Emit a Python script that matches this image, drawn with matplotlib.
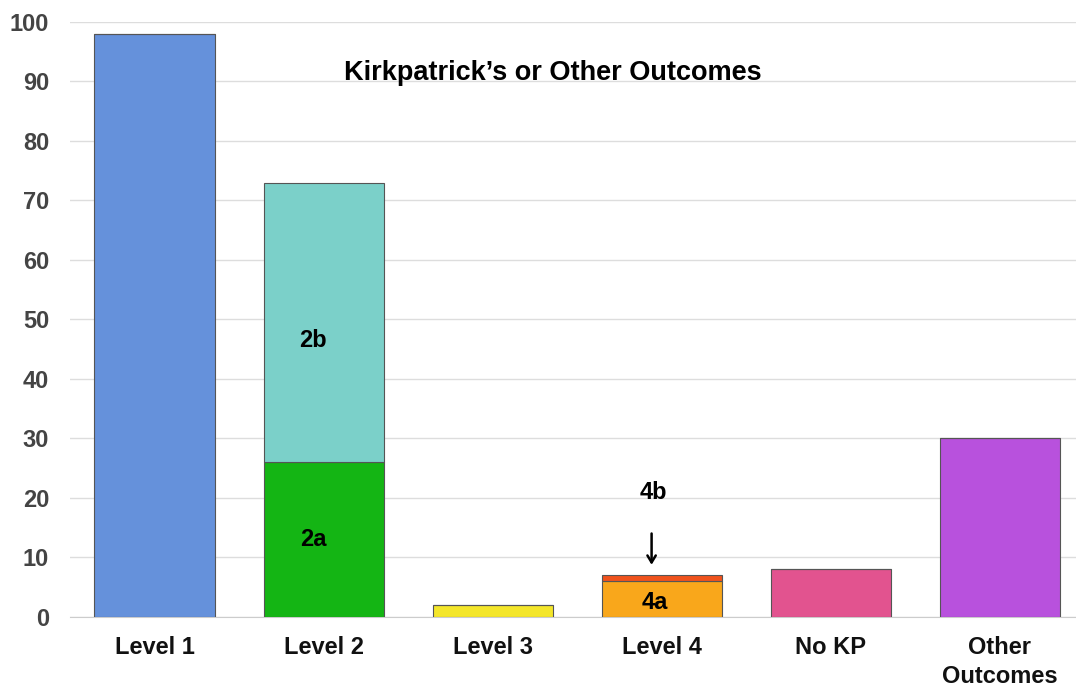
import matplotlib.pyplot as plt

plt.rcParams['font.family'] = ['Liberation Sans', 'DejaVu Sans']

categories = ['Level 1', 'Level 2', 'Level 3', 'Level 4', 'No KP', 'Other\nOutcomes']
base_values = [98, 26, 2, 6, 8, 30]   # Level 1, 2a, Level 3, 4a, No KP, Other
top_values = [0, 47, 0, 1, 0, 0]      # 2b, 4b
base_colors = ['#6591DB', '#14B514', '#F4E62A', '#F9A71B', '#E2538F', '#B851DD']
top_colors = ['#6591DB', '#7BD0C9', '#F4E62A', '#F0521C', '#E2538F', '#B851DD']

fig = plt.figure(figsize=(10.76, 6.89), dpi=100)
ax = fig.add_axes([0.065, 0.1045, 0.935, 0.8636])

x = range(len(categories))
ax.bar(x, base_values, width=0.71, color=base_colors, edgecolor='#555555', linewidth=0.8, zorder=3)
ax.bar(x, top_values, width=0.71, bottom=base_values, color=top_colors,
       edgecolor='#555555', linewidth=0.8, zorder=3)

ax.set_xlim(-0.5, 5.45)
ax.set_ylim(0, 100)
ax.set_yticks(range(0, 101, 10))
ax.set_xticks(list(x))
ax.set_xticklabels(categories, fontsize=17, fontweight='bold', color='#111111', linespacing=1.3)
for lbl in ax.get_yticklabels():
    lbl.set_fontsize(17)
    lbl.set_fontweight('bold')
    lbl.set_color('#444444')

ax.grid(axis='y', color='#DDDDDD', linewidth=1, zorder=0)
for s in ['top', 'right', 'left']:
    ax.spines[s].set_visible(False)
ax.spines['bottom'].set_color('#CCCCCC')
ax.tick_params(axis='x', length=0, pad=14)
ax.tick_params(axis='y', length=0, pad=15)

# segment labels
ax.text(0.94, 46.5, '2b', ha='center', va='center', fontsize=17, fontweight='bold')
ax.text(0.94, 13, '2a', ha='center', va='center', fontsize=17, fontweight='bold')
ax.text(2.96, 2.5, '4a', ha='center', va='center', fontsize=17, fontweight='bold')
ax.text(2.95, 21, '4b', ha='center', va='center', fontsize=17, fontweight='bold')
ax.annotate('', xy=(2.94, 8.3), xytext=(2.94, 14.5),
            arrowprops=dict(arrowstyle='->,head_length=0.5,head_width=0.3', color='black', lw=1.8))

ax.text(0.48, 0.914, 'Kirkpatrick\u2019s or Other Outcomes', transform=ax.transAxes,
        ha='center', va='center', fontsize=19.5, fontweight='bold')

fig.savefig('out.png', dpi=100)
